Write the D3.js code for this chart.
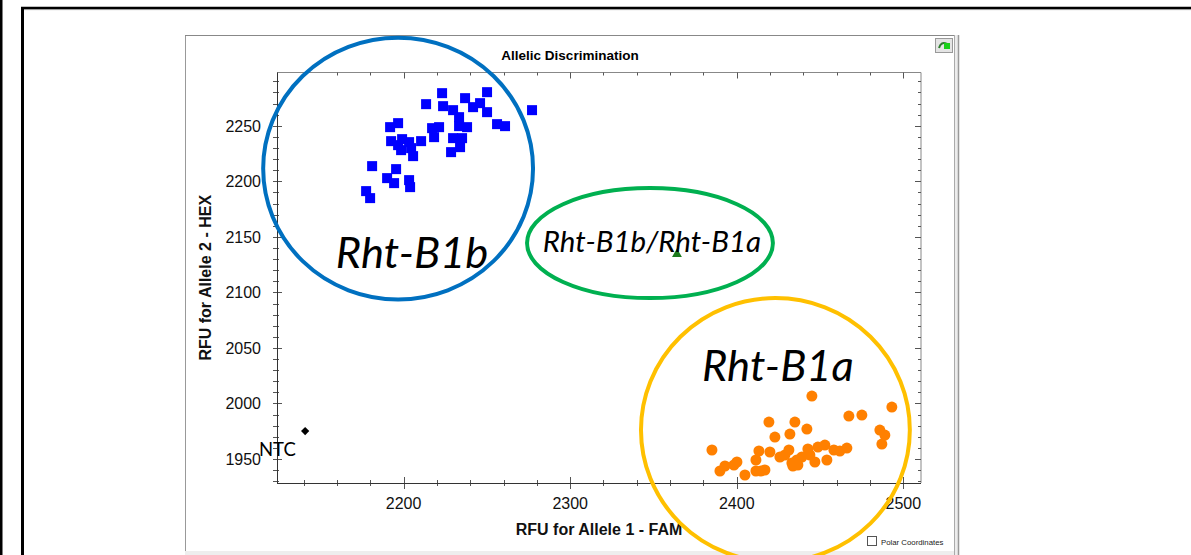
<!DOCTYPE html>
<html>
<head>
<meta charset="utf-8">
<script src="https://cdn.jsdelivr.net/npm/d3@7"></script>
<style>
  body { margin: 0; background: #fff; }
  svg { display: block; font-family: "Liberation Sans", Arial, sans-serif; }
</style>
</head>
<body>
<div id="chart-container"></div>
<script>
// Rht-B1b cluster (allele 2 / HEX)
const b1bFam = [2223.1, 2236.9, 2250.1, 2213.5, 2223.7, 2229.7, 2241.7, 2245.9, 2250.1, 2277.1,
                2233.3, 2233.3, 2238.1, 2256.1, 2260.9, 2196.7, 2191.9, 2217.1, 2221.3, 2218.3,
                2229.7, 2235.1, 2233.9, 2228.5, 2192.5, 2199.1, 2203.3, 2210.5, 2198.5, 2204.5,
                2205.7, 2196.7, 2181.1, 2195.5, 2190.1, 2194.3, 2203.3, 2203.9, 2177.5, 2179.9];
const b1bHex = [2279.4, 2274.9, 2280.3, 2269.5, 2267.7, 2264.1, 2266.8, 2270.4, 2262.3, 2264.1,
                2257.8, 2249.7, 2248.8, 2251.5, 2249.7, 2252.4, 2248.8, 2247.9, 2248.8, 2239.8,
                2238.9, 2238.9, 2230.8, 2226.3, 2236.2, 2238.0, 2235.3, 2236.2, 2228.1, 2229.9,
                2222.7, 2232.6, 2213.7, 2211.0, 2202.9, 2198.4, 2201.1, 2194.8, 2191.2, 2184.9];

// Rht-B1a cluster (allele 1 / FAM)
const b1aFam = [2445.1, 2493.1, 2467.3, 2475.1, 2419.3, 2434.9, 2442.1, 2431.9, 2422.9, 2485.9,
                2488.9, 2487.1, 2385.1, 2413.3, 2419.9, 2431.3, 2442.7, 2448.7, 2452.9, 2458.3,
                2461.9, 2466.1, 2425.9, 2428.9, 2411.5, 2400.1, 2398.3, 2392.9, 2389.9, 2404.9,
                2411.5, 2414.5, 2416.9, 2433.1, 2436.1, 2439.1, 2443.9, 2446.9, 2454.1, 2436.7, 2433.7];
const b1aHex = [2006.7, 1996.8, 1988.7, 1989.6, 1983.3, 1983.3, 1977.0, 1972.5, 1969.8, 1976.1,
                1971.6, 1963.5, 1958.1, 1957.2, 1956.3, 1958.1, 1959.0, 1960.8, 1962.6, 1958.1,
                1957.2, 1959.9, 1951.8, 1953.6, 1949.1, 1947.3, 1944.6, 1943.7, 1939.2, 1935.6,
                1939.2, 1939.2, 1940.1, 1946.4, 1949.1, 1951.8, 1953.6, 1947.3, 1949.1, 1944.6, 1943.7];

// heterozygote and no-template control
const hetFam = [2364.1];
const hetHex = [2134.5];
const ntcFam = [2140.9];
const ntcHex = [1975.2];

const xTickLabels = [2200, 2300, 2400, 2500];
const yTickLabels = [1950, 2000, 2050, 2100, 2150, 2200, 2250];

// hand drawn group rings, in data units
const groupNames = ["Rht-B1b", "Rht-B1b/Rht-B1a", "Rht-B1a"];
const groupCx = [2196.7, 2347.9, 2423.2];
const groupCy = [2211.5, 2144.4, 1976.1];
const groupRx = [81, 73.8, 80.7];
const groupRy = [117.9, 49.5, 118.8];
const groupLabelX = [2205.1, 2349.1, 2424.7];
const groupLabelY = [2121.9, 2136.3, 2020.2];

const width = 1191;
const height = 555;

function drawChart() {
  const svg = d3.select("#chart-container")
    .append("svg")
    .attr("width", width)
    .attr("height", height);

  // outer document frame
  svg.append("rect").attr("x", 0).attr("y", 0).attr("width", 2.5).attr("height", height).attr("fill", "#000");
  svg.append("line").attr("x1", 22.5).attr("x2", 22.5).attr("y1", 7).attr("y2", height)
    .attr("stroke", "#000").attr("stroke-width", 3);
  svg.append("line").attr("x1", 21).attr("x2", width).attr("y1", 8).attr("y2", 8)
    .attr("stroke", "#000").attr("stroke-width", 2.5);
  svg.append("line").attr("x1", 24).attr("x2", width).attr("y1", 9.6).attr("y2", 9.6)
    .attr("stroke", "#999").attr("stroke-width", 1);

  // software window
  svg.append("rect").attr("x", 185).attr("y", 551).attr("width", 774).attr("height", 4).attr("fill", "#eeeeee");
  svg.append("line").attr("x1", 185.5).attr("x2", 185.5).attr("y1", 35).attr("y2", 551)
    .attr("stroke", "#999");
  svg.append("line").attr("x1", 185).attr("x2", 954).attr("y1", 35.5).attr("y2", 35.5)
    .attr("stroke", "#888");
  svg.append("rect").attr("x", 954).attr("y", 35).attr("width", 5).attr("height", 520).attr("fill", "#ececec");
  svg.append("line").attr("x1", 954.5).attr("x2", 954.5).attr("y1", 35).attr("y2", height).attr("stroke", "#aaa");
  svg.append("line").attr("x1", 958.5).attr("x2", 958.5).attr("y1", 35).attr("y2", height).attr("stroke", "#999").attr("stroke-width", 1.5);

  // little button top right
  svg.append("rect").attr("x", 935.5).attr("y", 38.5).attr("width", 17).attr("height", 14)
    .attr("fill", "#e4e4e4").attr("stroke", "#999");
  svg.append("path").attr("d", "M939,48 Q941,41 947,44")
    .attr("fill", "none").attr("stroke", "#2f7d2f").attr("stroke-width", 2);
  svg.append("rect").attr("x", 944).attr("y", 43).attr("width", 6).attr("height", 6).attr("fill", "#19d019");

  const x = d3.scaleLinear().domain([2124, 2510.6]).range([277, 921]);
  const y = d3.scaleLinear().domain([1928.4, 2298]).range([483, 72.5]);
  const [left, right] = x.range();
  const [bottom, top] = y.range();

  const xMinor = d3.range(2140, 2501, 20).filter(d => !xTickLabels.includes(d));
  const yMinor = d3.range(1930, 2291, 10).filter(d => !yTickLabels.includes(d));

  svg.append("text")
    .attr("x", 570).attr("y", 60)
    .attr("text-anchor", "middle")
    .style("font-weight", "bold").style("font-size", "13.5px")
    .text("Allelic Discrimination");

  // plot frame
  svg.append("line").attr("x1", left).attr("x2", right).attr("y1", top).attr("y2", top).attr("stroke", "#888");
  svg.append("line").attr("x1", right).attr("x2", right).attr("y1", top).attr("y2", bottom).attr("stroke", "#888");

  const ticks = svg.append("g").attr("stroke", "#555").attr("stroke-width", 1);

  // bottom + top ticks
  ticks.selectAll(".xmin").data(xMinor).enter().append("line")
    .attr("x1", d => Math.round(x(d)) + 0.5).attr("x2", d => Math.round(x(d)) + 0.5)
    .attr("y1", bottom - 3).attr("y2", bottom + 3);
  ticks.selectAll(".xmaj").data(xTickLabels).enter().append("line")
    .attr("x1", d => Math.round(x(d)) + 0.5).attr("x2", d => Math.round(x(d)) + 0.5)
    .attr("y1", bottom - 6).attr("y2", bottom + 6);
  ticks.selectAll(".xmint").data(xMinor).enter().append("line")
    .attr("x1", d => Math.round(x(d)) + 0.5).attr("x2", d => Math.round(x(d)) + 0.5)
    .attr("y1", top).attr("y2", top + 3);
  ticks.selectAll(".xmajt").data(xTickLabels).enter().append("line")
    .attr("x1", d => Math.round(x(d)) + 0.5).attr("x2", d => Math.round(x(d)) + 0.5)
    .attr("y1", top).attr("y2", top + 6);

  // left + right ticks
  ticks.selectAll(".ymin").data(yMinor).enter().append("line")
    .attr("y1", d => Math.round(y(d)) + 0.5).attr("y2", d => Math.round(y(d)) + 0.5)
    .attr("x1", left - 4).attr("x2", left + 2);
  ticks.selectAll(".ymaj").data(yTickLabels).enter().append("line")
    .attr("y1", d => Math.round(y(d)) + 0.5).attr("y2", d => Math.round(y(d)) + 0.5)
    .attr("x1", left - 4).attr("x2", left + 5);
  ticks.selectAll(".ymins").data(yMinor).enter().append("line")
    .attr("y1", d => Math.round(y(d)) + 0.5).attr("y2", d => Math.round(y(d)) + 0.5)
    .attr("x1", right - 3).attr("x2", right);
  ticks.selectAll(".ymajs").data(yTickLabels).enter().append("line")
    .attr("y1", d => Math.round(y(d)) + 0.5).attr("y2", d => Math.round(y(d)) + 0.5)
    .attr("x1", right - 6).attr("x2", right);

  // axis lines
  svg.append("line").attr("x1", left + 0.5).attr("x2", left + 0.5).attr("y1", top).attr("y2", bottom + 0.5)
    .attr("stroke", "#333");
  svg.append("line").attr("x1", left).attr("x2", right).attr("y1", bottom + 0.5).attr("y2", bottom + 0.5)
    .attr("stroke", "#333");

  svg.selectAll(".xlab").data(xTickLabels).enter().append("text")
    .attr("x", d => x(d)).attr("y", bottom + 26)
    .attr("text-anchor", "middle")
    .style("font-size", "16px").style("fill", "#111")
    .text(d => d);
  svg.selectAll(".ylab").data(yTickLabels).enter().append("text")
    .attr("x", left - 16).attr("y", d => y(d))
    .attr("dy", "0.36em")
    .attr("text-anchor", "end")
    .style("font-size", "16px").style("fill", "#111")
    .text(d => d);

  svg.append("text")
    .attr("x", (left + right) / 2).attr("y", 535)
    .attr("text-anchor", "middle")
    .style("font-weight", "bold").style("font-size", "16px").style("fill", "#111")
    .text("RFU for Allele 1 - FAM");
  svg.append("text")
    .attr("transform", "translate(211," + (top + bottom) / 2 + ") rotate(-90)")
    .attr("text-anchor", "middle")
    .style("font-weight", "bold").style("font-size", "16px").style("fill", "#111")
    .text("RFU for Allele 2 - HEX");

  // markers
  svg.selectAll(".b1b").data(b1bFam).enter().append("rect")
    .attr("x", (d) => x(d) - 5)
    .attr("y", (_, i) => y(b1bHex[i]) - 5)
    .attr("width", 10).attr("height", 10)
    .style("fill", "#0000ff");

  svg.selectAll(".b1a").data(b1aFam).enter().append("circle")
    .attr("cx", (d) => x(d))
    .attr("cy", (_, i) => y(b1aHex[i]))
    .attr("r", 5.5)
    .style("fill", "#ff8000");

  svg.selectAll(".het").data(hetFam).enter().append("path")
    .attr("d", d3.symbol(d3.symbolTriangle, 42))
    .attr("transform", (d, i) => `translate(${x(d)}, ${y(hetHex[i])})`)
    .style("fill", "#1b7a1b");

  svg.selectAll(".ntc").data(ntcFam).enter().append("path")
    .attr("d", d3.symbol(d3.symbolSquare, 34))
    .attr("transform", (d, i) => `translate(${x(d)}, ${y(ntcHex[i])}) rotate(45)`)
    .style("fill", "#000");

  svg.append("text")
    .attr("x", 259).attr("y", 456)
    .style("font-family", "Lato, sans-serif").style("font-size", "18.5px")
    .text("NTC");

  // drawn rings around the groups
  const ringColors = ["#0070c0", "#00b050", "#ffc000"];
  const ringFont = ["43.5px", "29.5px", "43.5px"];

  svg.selectAll(".ring").data(groupNames).enter().append("ellipse")
    .attr("cx", (_, i) => x(groupCx[i]))
    .attr("cy", (_, i) => y(groupCy[i]))
    .attr("rx", (_, i) => x(groupCx[i] + groupRx[i]) - x(groupCx[i]))
    .attr("ry", (_, i) => y(groupCy[i]) - y(groupCy[i] + groupRy[i]))
    .style("fill", "none")
    .style("stroke", (_, i) => ringColors[i])
    .style("stroke-width", 4);

  svg.selectAll(".ringlab").data(groupNames).enter().append("text")
    .attr("x", (_, i) => x(groupLabelX[i]))
    .attr("y", (_, i) => y(groupLabelY[i]))
    .attr("text-anchor", "middle")
    .style("font-family", "Lato, sans-serif")
    .style("font-style", "italic")
    .style("font-size", (_, i) => ringFont[i])
    .text(d => d);

  // polar coordinates checkbox
  svg.append("rect").attr("x", 867.5).attr("y", 536.5).attr("width", 9).attr("height", 9)
    .attr("fill", "#fff").attr("stroke", "#555");
  svg.append("text").attr("x", 881).attr("y", 544.5)
    .style("font-size", "7.8px").style("fill", "#222")
    .text("Polar Coordinates");
}

drawChart();
</script>
</body>
</html>
